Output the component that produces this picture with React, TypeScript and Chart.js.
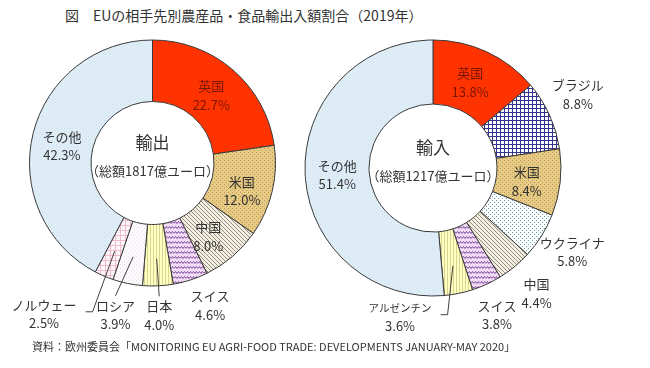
import React, { useEffect, useRef } from 'react';
import { Chart, registerables } from 'chart.js';

Chart.register(...registerables);

// ---- data ----
const titleText = '図　EUの相手先別農産品・食品輸出入額割合（2019年）';
const sourceText = '資料：欧州委員会「MONITORING EU AGRI-FOOD TRADE: DEVELOPMENTS JANUARY-MAY 2020」';

const exportCategories = ['英国', '米国', '中国', 'スイス', '日本', 'ロシア', 'ノルウェー', 'その他'];
const exportShares = [22.7, 12.0, 8.0, 4.6, 4.0, 3.9, 2.5, 42.3];
const exportCenterText = ['輸出', '（総額1817億ユーロ）'];

const importCategories = ['英国', 'ブラジル', '米国', 'ウクライナ', '中国', 'スイス', 'アルゼンチン', 'その他'];
const importShares = [13.8, 8.8, 8.4, 5.8, 4.4, 3.8, 3.6, 51.4];
const importCenterText = ['輸入', '（総額1217億ユーロ）'];

// ---- styles ----
const FONT = "'Noto Sans CJK JP', 'Noto Sans', sans-serif";
const TEXT = '#333333';

const fillKind: Record<string, string> = {
  '英国': 'red',
  '米国': 'tan',
  '中国': 'stripe',
  'スイス': 'wave',
  '日本': 'vline',
  'アルゼンチン': 'vline',
  'ロシア': 'faint',
  'ノルウェー': 'pinkgrid',
  'ブラジル': 'navygrid',
  'ウクライナ': 'dots',
  'その他': 'sky',
};

type Placement = { r: number; a: number; leader?: 'line' | 'elbow'; small?: boolean; color?: string };

const exportPlacement: Placement[] = [
  { r: 0.73, a: 0, color: '#7a1500' },
  { r: 0.76, a: 4 },
  { r: 0.75, a: 3.5 },
  { r: 1.25, a: -4 },
  { r: 1.24, a: 0, leader: 'line' },
  { r: 1.27, a: 2, leader: 'line' },
  { r: 1.51, a: 12.5, leader: 'elbow' },
  { r: 0.75, a: -3 },
];

const importPlacement: Placement[] = [
  { r: 0.73, a: -1.4, color: '#7a1500' },
  { r: 1.27, a: -2.5 },
  { r: 0.74, a: 1.5 },
  { r: 1.27, a: -1 },
  { r: 1.27, a: 0 },
  { r: 1.25, a: 1.3 },
  { r: 1.19, a: 24, leader: 'elbow', small: true },
  { r: 0.75, a: -1.5 },
];

function tile(w: number, h: number, draw: (c: CanvasRenderingContext2D) => void): CanvasPattern | string {
  const cv = document.createElement('canvas');
  cv.width = w;
  cv.height = h;
  const c = cv.getContext('2d')!;
  draw(c);
  const ctx = document.createElement('canvas').getContext('2d')!;
  return ctx.createPattern(cv, 'repeat') || '#ccc';
}

function makeFill(kind: string): CanvasPattern | string {
  switch (kind) {
    case 'red':
      return '#ff3300';
    case 'tan':
      return tile(4, 4, (c) => {
        c.fillStyle = '#e7ca83';
        c.fillRect(0, 0, 4, 4);
        c.fillStyle = '#b99a56';
        c.fillRect(0, 0, 1, 1);
        c.fillRect(2, 2, 1, 1);
      });
    case 'stripe':
      return tile(4, 4, (c) => {
        c.fillStyle = '#f4efe3';
        c.fillRect(0, 0, 4, 4);
        c.fillStyle = '#958d7d';
        for (let i = 0; i < 4; i++) c.fillRect(i, i, 1, 1);
      });
    case 'wave':
      return tile(6, 5, (c) => {
        c.fillStyle = '#f2dcf5';
        c.fillRect(0, 0, 6, 5);
        c.strokeStyle = '#7e4a9c';
        c.lineWidth = 1;
        c.beginPath();
        c.moveTo(0, 3.5);
        c.lineTo(1.5, 1.5);
        c.lineTo(3, 3.5);
        c.lineTo(4.5, 1.5);
        c.lineTo(6, 3.5);
        c.stroke();
      });
    case 'vline':
      return tile(3, 2, (c) => {
        c.fillStyle = '#ffffc4';
        c.fillRect(0, 0, 3, 2);
        c.fillStyle = '#d9d48e';
        c.fillRect(0, 0, 1, 2);
      });
    case 'faint':
      return tile(4, 4, (c) => {
        c.fillStyle = '#fcfafc';
        c.fillRect(0, 0, 4, 4);
        c.fillStyle = '#e8dde8';
        c.fillRect(0, 0, 1, 1);
        c.fillRect(2, 2, 1, 1);
      });
    case 'pinkgrid':
      return tile(5, 5, (c) => {
        c.fillStyle = '#fdf6f8';
        c.fillRect(0, 0, 5, 5);
        c.fillStyle = '#efbccd';
        c.fillRect(0, 0, 5, 1);
        c.fillRect(0, 0, 1, 5);
      });
    case 'navygrid':
      return tile(4, 4, (c) => {
        c.fillStyle = '#ffffff';
        c.fillRect(0, 0, 4, 4);
        c.fillStyle = '#34348f';
        c.fillRect(0, 0, 4, 1);
        c.fillRect(0, 0, 1, 4);
      });
    case 'dots':
      return tile(4, 4, (c) => {
        c.fillStyle = '#ffffff';
        c.fillRect(0, 0, 4, 4);
        c.fillStyle = '#5b9fa6';
        c.fillRect(0, 0, 1, 1);
        c.fillRect(2, 2, 1, 1);
      });
    case 'sky':
    default:
      return tile(4, 4, (c) => {
        c.fillStyle = '#dfedf7';
        c.fillRect(0, 0, 4, 4);
        c.fillStyle = '#cfe1ee';
        c.fillRect(0, 0, 1, 1);
        c.fillRect(2, 2, 1, 1);
      });
  }
}

function labelPlugin(categories: string[], values: number[], placement: Placement[], center: string[]) {
  return {
    id: 'sliceLabels',
    afterDatasetsDraw(chart: any) {
      const ctx: CanvasRenderingContext2D = chart.ctx;
      const meta = chart.getDatasetMeta(0);
      ctx.save();
      ctx.textAlign = 'center';
      ctx.textBaseline = 'middle';
      let cx = 0;
      let cy = 0;
      meta.data.forEach((arc: any, i: number) => {
        const p = arc.getProps(['x', 'y', 'startAngle', 'endAngle', 'outerRadius'], true);
        cx = p.x;
        cy = p.y;
        const pl = placement[i];
        const mid = (p.startAngle + p.endAngle) / 2;
        const ang = mid + (pl.a * Math.PI) / 180;
        const lx = p.x + Math.cos(ang) * p.outerRadius * pl.r;
        const ly = p.y + Math.sin(ang) * p.outerRadius * pl.r;
        const nameFont = `${pl.small ? 10.5 : 13}px ${FONT}`;
        ctx.fillStyle = pl.color || TEXT;
        ctx.font = nameFont;
        ctx.fillText(categories[i], lx, ly - 9);
        const nameW = ctx.measureText(categories[i]).width;
        ctx.font = `13px ${FONT}`;
        ctx.fillText(values[i].toFixed(1) + '%', lx, ly + 9.5);
        if (pl.leader) {
          const sx = p.x + Math.cos(mid) * p.outerRadius * 0.78;
          const sy = p.y + Math.sin(mid) * p.outerRadius * 0.78;
          ctx.strokeStyle = '#404040';
          ctx.lineWidth = 1;
          ctx.beginPath();
          ctx.moveTo(sx, sy);
          if (pl.leader === 'line') {
            ctx.lineTo(lx, ly - 19);
          } else {
            const right = lx + nameW / 2;
            ctx.lineTo(right + 16, ly - 2);
            ctx.lineTo(right + 9, ly - 2);
          }
          ctx.stroke();
        }
      });
      ctx.fillStyle = TEXT;
      ctx.font = `17px ${FONT}`;
      ctx.fillText(center[0], cx, cy - 20);
      ctx.font = `13px ${FONT}`;
      ctx.fillText(center[1], cx, cy + 8);
      ctx.restore();
    },
  };
}

function Donut(props: {
  categories: string[];
  values: number[];
  placement: Placement[];
  center: string[];
  radius: number;
  padding: { left: number; right: number; top: number; bottom: number };
}) {
  const ref = useRef<HTMLCanvasElement>(null);
  useEffect(() => {
    if (!ref.current) return;
    const chart = new Chart(ref.current, {
      type: 'doughnut',
      data: {
        labels: props.categories,
        datasets: [
          {
            data: props.values,
            backgroundColor: props.categories.map((c) => makeFill(fillKind[c])) as any,
            borderColor: '#3a3a3a',
            borderWidth: 1,
          },
        ],
      },
      options: {
        responsive: false,
        animation: false,
        radius: props.radius,
        cutout: '50%',
        layout: { padding: props.padding },
        plugins: { legend: { display: false }, tooltip: { enabled: false } },
      } as any,
      plugins: [labelPlugin(props.categories, props.values, props.placement, props.center)],
    });
    return () => chart.destroy();
  }, []);
  return (
    <canvas
      ref={ref}
      width={650}
      height={368}
      style={{ position: 'absolute', left: 0, top: 0, width: 650, height: 368 }}
    />
  );
}

export default function App() {
  return (
    <div
      style={{
        position: 'fixed',
        left: 0,
        top: 0,
        width: 650,
        height: 368,
        background: '#ffffff',
        overflow: 'hidden',
        fontFamily: FONT,
        color: TEXT,
      }}
    >
      <div style={{ position: 'absolute', left: 65, top: 6, fontSize: 14, lineHeight: '18px', whiteSpace: 'nowrap' }}>
        {titleText}
      </div>
      <Donut
        categories={exportCategories}
        values={exportShares}
        placement={exportPlacement}
        center={exportCenterText}
        radius={123}
        padding={{ left: 0, right: 345, top: 0, bottom: 42 }}
      />
      <Donut
        categories={importCategories}
        values={importShares}
        placement={importPlacement}
        center={importCenterText}
        radius={128}
        padding={{ left: 216, right: 0, top: 0, bottom: 32 }}
      />
      <div style={{ position: 'absolute', left: 32, top: 338, fontSize: 11, lineHeight: '16px', whiteSpace: 'nowrap' }}>
        {sourceText}
      </div>
    </div>
  );
}
